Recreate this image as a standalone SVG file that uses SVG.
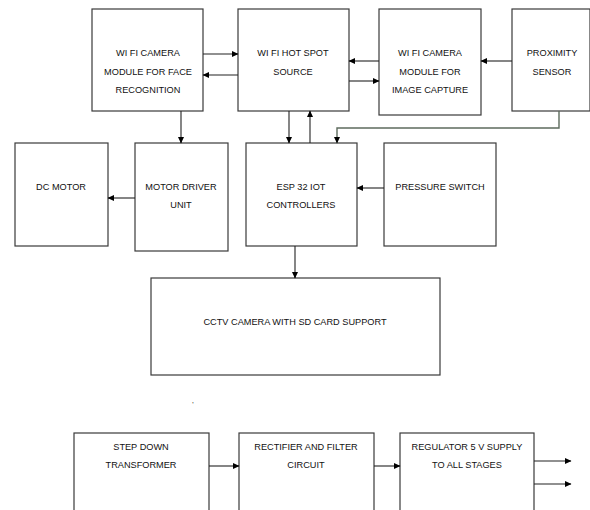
<svg xmlns="http://www.w3.org/2000/svg" width="590" height="510" viewBox="0 0 590 510">
<defs>
<marker id="ah" markerWidth="7" markerHeight="7" refX="6" refY="3.5" orient="auto" markerUnits="userSpaceOnUse">
<path d="M0,0.5 L6.5,3.5 L0,6.5 Z" fill="#000"/>
</marker>
<style>
.b{fill:#fff;stroke:#3a3a3a;stroke-width:1.2}
.t{font-family:"Liberation Sans",Arial,sans-serif;font-size:9.2px;fill:#111;text-anchor:middle}
.c{fill:none;stroke:#222;stroke-width:1.1}
.g{fill:none;stroke:#5d6b5d;stroke-width:1.4}
</style>
</defs>
<rect width="590" height="510" fill="#fff"/>
<g id="face">
<rect class="b" x="92" y="9" width="111" height="102"/>
<text class="t" x="148" y="55.5">WI FI CAMERA</text>
<text class="t" x="148" y="74.5">MODULE FOR FACE</text>
<text class="t" x="148" y="92.5">RECOGNITION</text>
</g>
<g id="hotspot">
<rect class="b" x="238" y="9" width="111" height="102"/>
<text class="t" x="293" y="55.5">WI FI HOT SPOT</text>
<text class="t" x="293" y="74.5">SOURCE</text>
</g>
<g id="imagecap">
<rect class="b" x="379" y="9" width="102" height="106"/>
<text class="t" x="430" y="55.5">WI FI CAMERA</text>
<text class="t" x="430" y="74.5">MODULE FOR</text>
<text class="t" x="430" y="92.5">IMAGE CAPTURE</text>
</g>
<g id="proximity">
<rect class="b" x="512" y="9" width="78" height="102"/>
<text class="t" x="552" y="55.5">PROXIMITY</text>
<text class="t" x="552" y="74.5">SENSOR</text>
</g>
<g id="dcmotor">
<rect class="b" x="15" y="143" width="93" height="103"/>
<text class="t" x="61" y="189.5">DC MOTOR</text>
</g>
<g id="motordriver">
<rect class="b" x="135" y="143" width="93" height="108"/>
<text class="t" x="181" y="189.5">MOTOR DRIVER</text>
<text class="t" x="181" y="207.5">UNIT</text>
</g>
<g id="esp32">
<rect class="b" x="246" y="143" width="111" height="103"/>
<text class="t" x="301" y="189.5">ESP 32 IOT</text>
<text class="t" x="301" y="208">CONTROLLERS</text>
</g>
<g id="pressure">
<rect class="b" x="384" y="143" width="112" height="103"/>
<text class="t" x="440" y="189.5">PRESSURE SWITCH</text>
</g>
<g id="cctv">
<rect class="b" x="151" y="278" width="289" height="97"/>
<text class="t" x="295" y="324.5">CCTV CAMERA WITH SD CARD SUPPORT</text>
</g>
<text class="t" x="193" y="407" style="font-size:7px">'</text>
<g id="stepdown">
<rect class="b" x="74" y="433" width="135" height="85"/>
<text class="t" x="141" y="449.5">STEP DOWN</text>
<text class="t" x="141" y="467.5">TRANSFORMER</text>
</g>
<g id="rectifier">
<rect class="b" x="239" y="433" width="135" height="85"/>
<text class="t" x="306" y="449.5">RECTIFIER AND FILTER</text>
<text class="t" x="306" y="467.5">CIRCUIT</text>
</g>
<g id="regulator">
<rect class="b" x="400" y="433" width="134" height="85"/>
<text class="t" x="467" y="449.5">REGULATOR 5 V SUPPLY</text>
<text class="t" x="467" y="467.5">TO ALL STAGES</text>
</g>
<g id="connectors">
<line class="c" x1="203" y1="54" x2="238" y2="54" marker-end="url(#ah)"/>
<line class="c" x1="238" y1="75" x2="203" y2="75" marker-end="url(#ah)"/>
<line class="c" x1="379" y1="61" x2="349" y2="61" marker-end="url(#ah)"/>
<line class="c" x1="349" y1="81" x2="379" y2="81" marker-end="url(#ah)"/>
<line class="c" x1="512" y1="61" x2="481" y2="61" marker-end="url(#ah)"/>
<line class="c" x1="181" y1="111" x2="181" y2="143" marker-end="url(#ah)"/>
<line class="c" x1="289" y1="111" x2="289" y2="143" marker-end="url(#ah)"/>
<line class="c" x1="310" y1="143" x2="310" y2="111" marker-end="url(#ah)"/>
<polyline class="g" points="559,111 559,128 337,128 337,143" marker-end="url(#ah)"/>
<line class="c" x1="135" y1="198" x2="108" y2="198" marker-end="url(#ah)"/>
<line class="c" x1="384" y1="188" x2="357" y2="188" marker-end="url(#ah)"/>
<line class="c" x1="295" y1="246" x2="295" y2="278" marker-end="url(#ah)"/>
<line class="c" x1="209" y1="466" x2="239" y2="466" marker-end="url(#ah)"/>
<line class="c" x1="374" y1="466" x2="400" y2="466" marker-end="url(#ah)"/>
<line class="c" x1="534" y1="461" x2="571" y2="461" marker-end="url(#ah)"/>
<line class="c" x1="534" y1="484" x2="571" y2="484" marker-end="url(#ah)"/>
</g>
</svg>
